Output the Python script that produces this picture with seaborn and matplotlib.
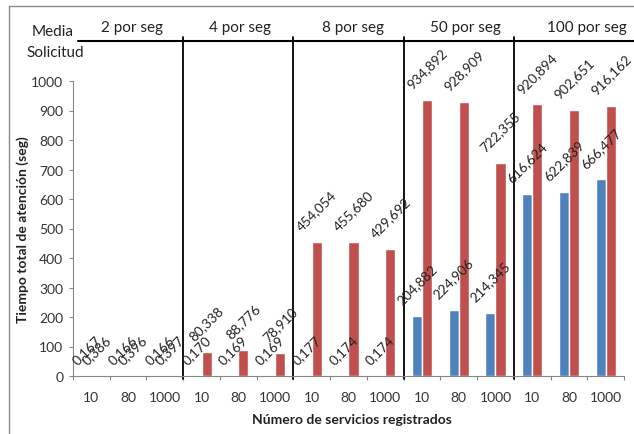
#!/usr/bin/env python3
"""Tiempo total de atención por tasa de solicitudes y número de servicios."""

import matplotlib.pyplot as plt
from matplotlib.lines import Line2D
import pandas as pd
import seaborn as sns

RATES = ["2 por seg", "4 por seg", "8 por seg", "50 por seg", "100 por seg"]
SERVICES = ["10", "80", "1000"]

# one value per (rate, services) pair, in RATES x SERVICES order
BLUE = [0.167, 0.166, 0.166,
        0.170, 0.169, 0.169,
        0.177, 0.174, 0.174,
        204.882, 224.906, 214.345,
        616.624, 622.839, 666.477]
RED = [0.386, 0.396, 0.397,
       80.338, 88.776, 78.910,
       454.054, 455.680, 429.692,
       934.892, 928.909, 722.355,
       920.894, 902.651, 916.162]
SERIES = ["Serie 1", "Serie 2"]
COLORS = {"Serie 1": "#4F81BD", "Serie 2": "#C0504D"}

W, H = 634, 435


def fx(px):
    return px / W


def fy(py):
    return 1 - py / H


def main() -> None:
    sns.set_style("white")
    plt.rcParams["font.family"] = ["Lato", "DejaVu Sans"]

    keys = [f"{r}|{s}" for r in RATES for s in SERVICES]
    df = pd.DataFrame({
        "key": keys * 2,
        "valor": BLUE + RED,
        "serie": [SERIES[0]] * len(keys) + [SERIES[1]] * len(keys),
    })

    fig = plt.figure(figsize=(W / 100, H / 100), dpi=100)
    ax = fig.add_axes([fx(73), fy(377), fx(624) - fx(73), (377 - 82) / H])

    sns.barplot(data=df, x="key", y="valor", hue="serie", order=keys,
                hue_order=SERIES, palette=COLORS, width=0.55, ax=ax,
                saturation=1, errorbar=None, legend=False)

    for cont, vals in zip(ax.containers, [BLUE, RED]):
        labels = [f"{v:.3f}".replace(".", ",") for v in vals]
        ax.bar_label(cont, labels=labels, rotation=45, padding=7,
                     fontsize=9.8, color="#222222")

    ax.set_ylim(0, 1000)
    ax.set_xlim(-0.5, len(keys) - 0.5)
    ax.set_yticks(range(0, 1001, 100))
    ax.set_xticks(range(len(keys)))
    ax.set_xticklabels(SERVICES * len(RATES))
    ax.set_xticks([i - 0.5 for i in range(len(keys) + 1)], minor=True)
    ax.tick_params(axis="x", which="major", length=0, pad=11,
                   labelsize=10, labelcolor="#333333")
    ax.tick_params(axis="x", which="minor", length=3, width=0.8,
                   color="#868686", direction="out", bottom=True)
    ax.tick_params(axis="y", length=3, width=0.8, color="#868686",
                   direction="out", left=True, pad=4, labelsize=10,
                   labelcolor="#333333")

    for side in ("top", "right"):
        ax.spines[side].set_visible(False)
    for side in ("left", "bottom"):
        ax.spines[side].set_color("#868686")
        ax.spines[side].set_linewidth(0.8)

    ax.set_ylabel("Tiempo total de atención (seg)", fontsize=10,
                  fontweight="bold", color="#222222")
    ax.yaxis.set_label_coords(-0.08, 0.5)
    ax.set_xlabel("Número de servicios registrados", fontsize=10,
                  fontweight="bold", color="#222222")
    ax.xaxis.set_label_coords(0.507, -0.127)

    # group separators and header
    n = len(SERVICES)
    top_axes = (377 - 38) / (377 - 82)
    for g in range(1, len(RATES)):
        ax.axvline(g * n - 0.5, ymin=-0.01, ymax=top_axes, color="black",
                   lw=1.3, clip_on=False)
    fig.add_artist(Line2D([fx(78), fx(634)], [fy(42), fy(42)],
                          color="black", lw=1.5))

    header_x = [132, 240, 353, 465, 587]
    for x, rate in zip(header_x, RATES):
        fig.text(fx(x), fy(28), rate, ha="center", va="center",
                 fontsize=11, color="#222222")
    fig.text(fx(53), fy(32), "Media", ha="center", va="center",
             fontsize=11, color="#222222")
    fig.text(fx(55), fy(53), "Solicitud", ha="center", va="center",
             fontsize=11, color="#222222")

    # chart frame (top and left edges only are visible)
    fig.add_artist(Line2D([fx(9), fx(9)], [fy(7), 0], color="#8c8c8c", lw=1))
    fig.add_artist(Line2D([fx(9), 1], [fy(7), fy(7)], color="#8c8c8c", lw=1))

    fig.savefig("out.png", dpi=100)


if __name__ == "__main__":
    main()
